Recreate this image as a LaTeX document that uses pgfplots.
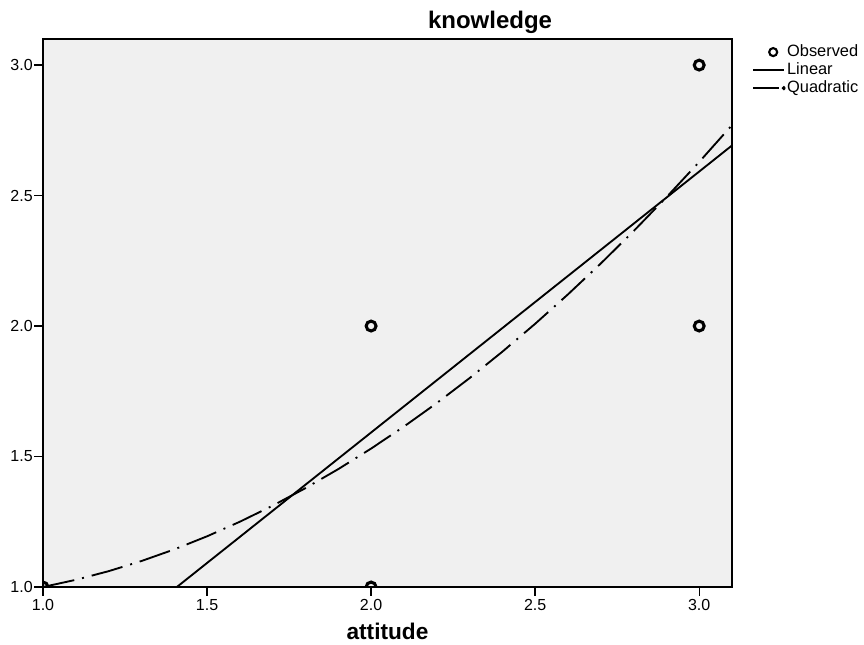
\documentclass[border=0pt]{standalone}
\usepackage{pgfplots}
\pgfplotsset{compat=1.18}
\usepackage{fontspec}
\setmainfont{Liberation Sans}
\definecolor{bg}{HTML}{F0F0F0}
\begin{document}
\begin{tikzpicture}
\begin{axis}[
  scale only axis,
  width=516.75pt, height=411pt,
  xmin=1, xmax=3.1, ymin=1, ymax=3.1,
  axis background/.style={fill=bg},
  axis line style={line width=1pt, black},
  xtick={1,1.5,2,2.5,3}, ytick={1,1.5,2,2.5,3},
  minor tick num=0,
  tick align=outside, major tick length=6.5pt,
  xtick pos=bottom, ytick pos=left,
  tick style={line width=1pt, black},
  tick label style={font=\fontsize{12}{14}\selectfont},
  yticklabel style={inner sep=1pt},
  xticklabel style={inner sep=2.5pt},
  /pgf/number format/.cd, fixed, fixed zerofill, precision=1, assume math mode=true, /pgfplots/.cd,
  title={knowledge},
  title style={font=\bfseries\fontsize{18}{21}\selectfont, at={(0.6488,1)}, anchor=base, yshift=2pt},
  xlabel={attitude},
  xlabel style={font=\bfseries\fontsize{17}{20}\selectfont, at={(0.5,0)}, anchor=base, yshift=-39.5pt},
  clip marker paths=true,
  legend style={at={(1.029,0.993)}, anchor=north west, draw=none, fill=none, inner sep=0pt,
    font=\fontsize{12.3}{14}\selectfont,
    nodes={text height=9pt, text depth=2.5pt, inner sep=1pt},
    row sep=0pt, cells={anchor=west}},
  legend image code/.code={\draw[mark repeat=2,mark phase=2,#1] plot coordinates {(0pt,0pt) (11.5pt,0pt) (23pt,0pt)};},
]
\addplot[only marks, mark=o, mark size=3.7pt, mark options={line width=2.3pt, black},
  legend image code/.code={\draw[line width=1.6pt] (15pt,0pt) circle (3pt);}]
  coordinates {(1,1) (2,1) (2,2) (3,2) (3,3)};
\addlegendentry{Observed}
\addplot[black, line width=1.4pt] coordinates {(1.408,1) (3.1,2.692)};
\addlegendentry{Linear}
\addplot[black, line width=1.4pt, dash pattern=on 24pt off 6pt on 1.5pt off 6pt,
  legend image code/.code={\draw[line width=1.4pt] (0pt,0pt) -- (19pt,0pt); \fill (23pt,0pt) circle (0.75pt);}]
  coordinates {
  (1.0,1.0000) (1.1,1.0275) (1.2,1.0606) (1.3,1.0995) (1.4,1.1440) (1.5,1.1942)
  (1.6,1.2501) (1.7,1.3116) (1.8,1.3789) (1.9,1.4518) (2.0,1.5304) (2.1,1.6147)
  (2.2,1.7046) (2.3,1.8003) (2.4,1.9016) (2.5,2.0086) (2.6,2.1213) (2.7,2.2396)
  (2.8,2.3637) (2.9,2.4934) (3.0,2.6288) (3.1,2.7699)};
\addlegendentry{Quadratic}
\end{axis}
\pgfresetboundingbox
\path (-32.25pt,-43.5pt) rectangle (615.75pt,440.25pt);
\end{tikzpicture}
\end{document}
